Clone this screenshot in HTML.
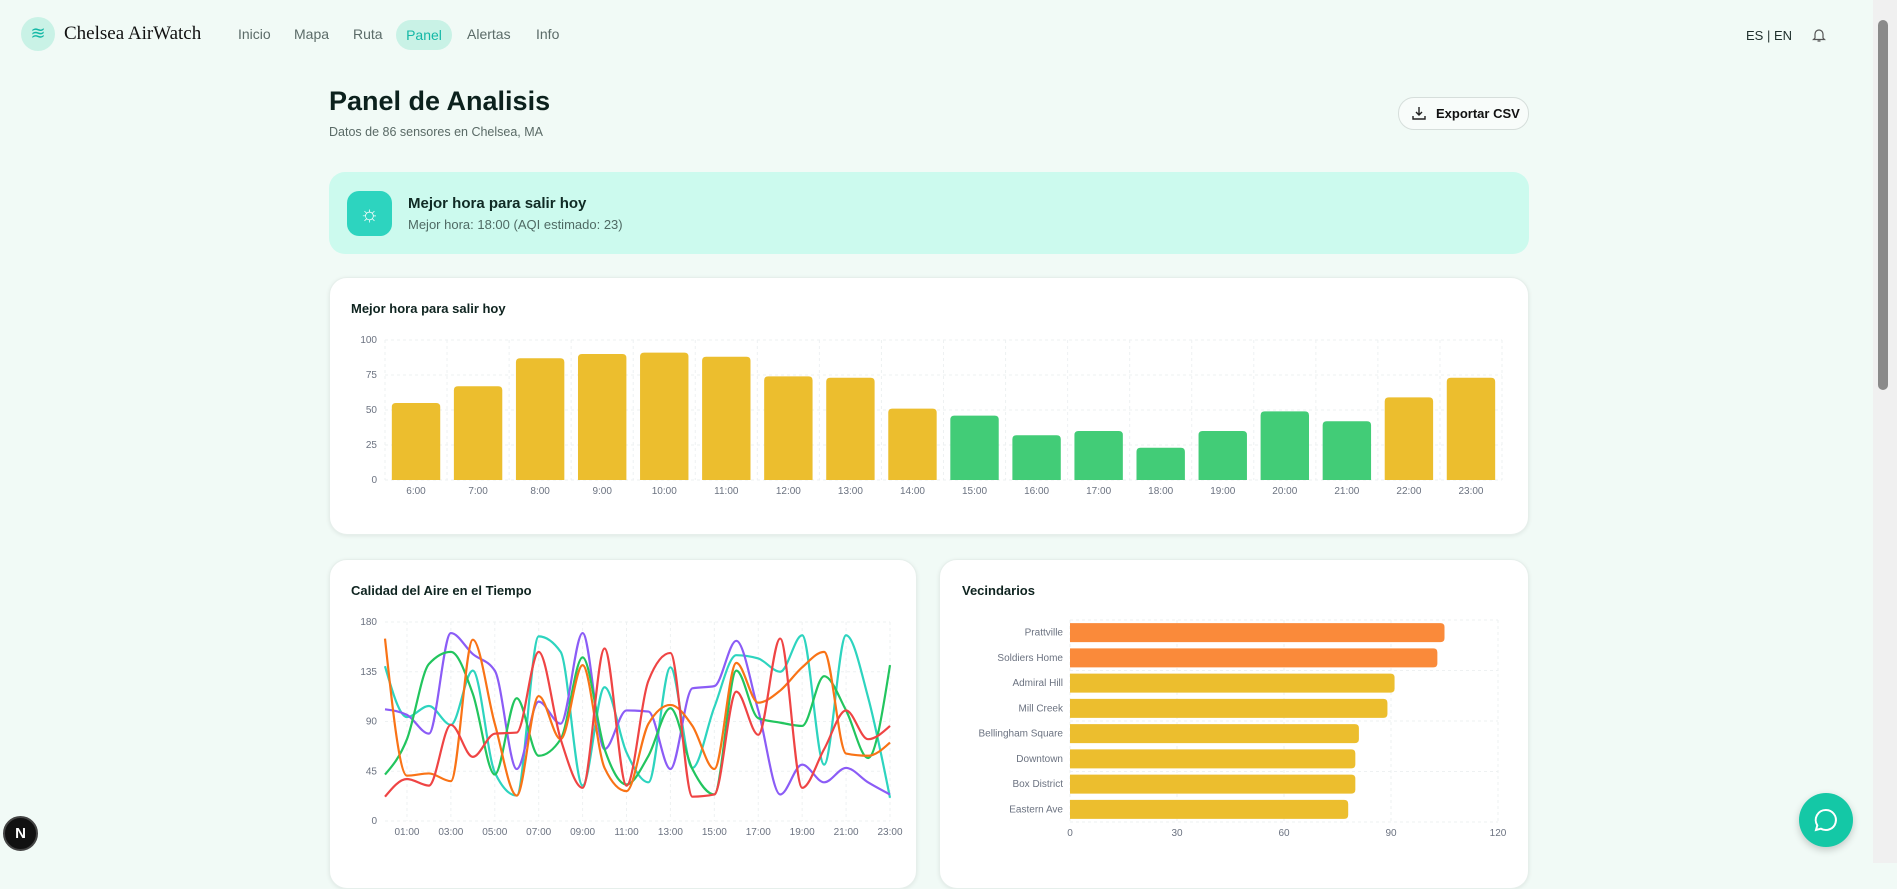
<!DOCTYPE html>
<html><head><meta charset="utf-8">
<style>
*{box-sizing:border-box;margin:0;padding:0}
body{width:1897px;height:863px;overflow:hidden;background:#F1FAF6;font-family:"Liberation Sans",sans-serif;position:relative;color:#0f2a24}
.abs{position:absolute}
.card{position:absolute;background:#fff;border-radius:18px;box-shadow:0 1px 4px rgba(0,0,0,.08);border:1px solid #e6efeb}
.nav a{position:absolute;top:26px;font-size:14px;color:#5b6b68;text-decoration:none}
.ctitle{position:absolute;font-size:13px;font-weight:bold;color:#0f2420}
svg text{font-family:"Liberation Sans",sans-serif}
</style></head><body>
<div class="abs" style="left:21px;top:17px;width:34px;height:34px;border-radius:50%;background:#c9f2e6;color:#14b8a6;font-size:18px;text-align:center;line-height:33px">≋</div>
<div class="abs" style="left:64px;top:23px;font-family:'Liberation Serif',serif;font-size:19px;color:#111">Chelsea AirWatch</div>
<div class="nav">
<a style="left:238px">Inicio</a>
<a style="left:294px">Mapa</a>
<a style="left:353px">Ruta</a>
<div class="abs" style="left:396px;top:20px;width:56px;height:30px;border-radius:15px;background:#c9f2e6;color:#14b8a6;font-size:14px;text-align:center;line-height:30px">Panel</div>
<a style="left:467px">Alertas</a>
<a style="left:536px">Info</a>
</div>
<div class="abs" style="left:1746px;top:28px;font-size:13px;color:#1f2f2c">ES | EN</div>
<svg class="abs" style="left:1811px;top:27px" width="16" height="16" viewBox="0 0 16 16"><path d="M4 11V7a4 4 0 0 1 8 0v4l1.5 1.5h-11z M6.5 14h3" fill="none" stroke="#555" stroke-width="1.2"/></svg>
<div class="abs" style="left:1873px;top:0;width:24px;height:863px;background:#f0f0f0"></div>
<div class="abs" style="left:1878px;top:20px;width:10px;height:370px;border-radius:5px;background:#8a8a8a"></div>

<div class="abs" style="left:329px;top:86px;font-size:27px;font-weight:bold;color:#0c211d">Panel de Analisis</div>
<div class="abs" style="left:329px;top:125px;font-size:12.5px;color:#5a6a66">Datos de 86 sensores en Chelsea, MA</div>
<div class="abs" style="left:1398px;top:97px;width:131px;height:33px;border:1px solid #d6dedb;border-radius:16px;background:#f8fcfa;font-size:13px;font-weight:bold;line-height:31px;padding-left:37px;color:#111">Exportar CSV<svg class="abs" style="left:13px;top:8px" width="14" height="14" viewBox="0 0 14 14"><path d="M7 1v8M4 6l3 3 3-3M1 10v3h12v-3" fill="none" stroke="#222" stroke-width="1.4"/></svg></div>

<div class="abs" style="left:329px;top:172px;width:1200px;height:82px;border-radius:16px;background:#CCFAEE"></div>
<div class="abs" style="left:347px;top:191px;width:45px;height:45px;border-radius:12px;background:#2DD4BF;color:#fff;font-size:22px;text-align:center;line-height:45px">☼</div>
<div class="abs" style="left:408px;top:195px;font-size:15px;font-weight:bold;color:#0f2a24">Mejor hora para salir hoy</div>
<div class="abs" style="left:408px;top:217px;font-size:13px;color:#4f6a64">Mejor hora: 18:00 (AQI estimado: 23)</div>

<div class="card" style="left:329px;top:277px;width:1200px;height:258px"></div>
<div class="ctitle" style="left:351px;top:301px">Mejor hora para salir hoy</div>
<div class="card" style="left:329px;top:559px;width:588px;height:330px"></div>
<div class="ctitle" style="left:351px;top:583px">Calidad del Aire en el Tiempo</div>
<div class="card" style="left:939px;top:559px;width:590px;height:330px"></div>
<div class="ctitle" style="left:962px;top:583px">Vecindarios</div>

<svg id="chart" class="abs" style="left:0;top:0" width="1897" height="863"></svg>

<div class="abs" style="left:3px;top:816px;width:35px;height:35px;border-radius:50%;background:#111;border:2px solid #444;color:#fff;font-size:15px;font-weight:bold;text-align:center;line-height:31px">N</div>
<div class="abs" style="left:1799px;top:793px;width:54px;height:54px;border-radius:50%;background:#14C8A6;box-shadow:0 3px 8px rgba(0,0,0,.2)"><svg width="54" height="54" viewBox="0 0 54 54"><path d="M27 17a10 10 0 1 1-5 18.7l-5 1.3 1.3-4.6A10 10 0 0 1 27 17z" fill="none" stroke="#fff" stroke-width="2"/></svg></div>

<script>
const hours=["6:00","7:00","8:00","9:00","10:00","11:00","12:00","13:00","14:00","15:00","16:00","17:00","18:00","19:00","20:00","21:00","22:00","23:00"];
const hourAqi=[55,67,87,90,91,88,74,73,51,46,32,35,23,35,49,42,59,73];
const hourTicks=[0,25,50,75,100];
const tsLabels=["01:00","03:00","05:00","07:00","09:00","11:00","13:00","15:00","17:00","19:00","21:00","23:00"];
const tsTicks=[0,45,90,135,180];
const tealSeries=[140,94,104,87,136,44,23,167,153,32,121,62,35,139,48,103,150,147,135,168,51,168,112,21];
const purpleSeries=[101,96,79,170,151,136,47,108,88,170,65,100,99,47,120,122,163,100,24,51,35,48,35,24];
const greenSeries=[42,74,142,153,115,42,111,59,74,148,65,33,59,102,47,24,136,93,89,86,131,100,57,141];
const orangeSeries=[165,41,43,36,164,88,23,113,74,141,48,27,88,105,86,47,143,107,118,139,153,61,59,71];
const redSeries=[22,38,32,87,58,79,80,153,74,30,156,32,127,152,22,24,117,78,165,30,65,100,74,86];
const hoods=["Prattville","Soldiers Home","Admiral Hill","Mill Creek","Bellingham Square","Downtown","Box District","Eastern Ave"];
const hoodAqi=[105,103,91,89,81,80,80,78];
const hoodTicks=[0,30,60,90,120];

const svg=document.getElementById('chart');
const NS='http://www.w3.org/2000/svg';
function mk(tag,at){const e=document.createElementNS(NS,tag);for(const k in at)e.setAttribute(k,at[k]);svg.appendChild(e);return e;}
function txt(x,y,s,anchor){const t=mk('text',{x:x,y:y,'font-size':10,fill:'#6b7280','text-anchor':anchor});t.textContent=s;return t;}
const GRID='#eef1f2';

// Bar chart
const bx0=385,bx1=1502,by0=480,by1=340;
const bw=(bx1-bx0)/hours.length;
const byS=v=>by0-(v/100)*(by0-by1);
hourTicks.forEach(t=>{const g=mk('line',{x1:bx0,x2:bx1,y1:byS(t),y2:byS(t),stroke:GRID,'stroke-dasharray':'3 3'});


const l=txt(377,byS(t)+3,t,'end');

});
hours.forEach((h,i)=>{const gx=bx0+bw*i;mk('line',{x1:gx,x2:gx,y1:by1,y2:by0,stroke:GRID,'stroke-dasharray':'3 3'});
const v=hourAqi[i];const w=bw*0.78;const x=gx+(bw-w)/2;const y=byS(v);
const r=mk('path',{d:`M${x},${by0}V${y+4}Q${x},${y} ${x+4},${y}H${x+w-4}Q${x+w},${y} ${x+w},${y+4}V${by0}Z`,fill:v<50?'#42CC77':'#ECBE2E'});


const l=txt(gx+bw/2,494,h,'middle');

});
mk('line',{x1:bx1,x2:bx1,y1:by1,y2:by0,stroke:GRID,'stroke-dasharray':'3 3'});

// Line chart
const lx0=385,lx1=890,ly0=821,ly1=622;
const lxS=i=>lx0+i*(lx1-lx0)/23;
const lyS=v=>ly0-(v/180)*(ly0-ly1);
tsTicks.forEach(t=>{mk('line',{x1:lx0,x2:lx1,y1:lyS(t),y2:lyS(t),stroke:GRID,'stroke-dasharray':'3 3'});
const l=txt(377,lyS(t)+3,t,'end');

});
tsLabels.forEach((s,k)=>{const i=1+2*k;mk('line',{x1:lxS(i),x2:lxS(i),y1:ly1,y2:ly0,stroke:GRID,'stroke-dasharray':'3 3'});
const l=txt(lxS(i),835,s,'middle');

});
function monotone(pts){const n=pts.length;const d=[],m=[];
for(let i=0;i<n-1;i++)d.push((pts[i+1][1]-pts[i][1])/(pts[i+1][0]-pts[i][0]));
for(let i=0;i<n;i++){if(i==0)m.push(d[0]);else if(i==n-1)m.push(d[n-2]);else{if(d[i-1]*d[i]<=0)m.push(0);else{const h0=pts[i][0]-pts[i-1][0],h1=pts[i+1][0]-pts[i][0];const p=(d[i-1]*h1+d[i]*h0)/(h0+h1);m.push((Math.sign(d[i-1])+Math.sign(d[i]))*Math.min(Math.abs(d[i-1]),Math.abs(d[i]),0.5*Math.abs(p)));}}}
m[0]=(3*d[0]-m[1])/2;m[n-1]=(3*d[n-2]-m[n-2])/2;
let s=`M${pts[0][0]},${pts[0][1]}`;
for(let i=0;i<n-1;i++){const h=(pts[i+1][0]-pts[i][0])/3;s+=`C${pts[i][0]+h},${pts[i][1]+h*m[i]} ${pts[i+1][0]-h},${pts[i+1][1]-h*m[i+1]} ${pts[i+1][0]},${pts[i+1][1]}`;}
return s;}
[[tealSeries,'#2DD4BF','teal'],[purpleSeries,'#8B5CF6','purple'],[greenSeries,'#22C55E','green'],[orangeSeries,'#F97316','orange'],[redSeries,'#EF4444','red']].forEach(([arr,c,n])=>{
const p=mk('path',{d:monotone(arr.map((v,i)=>[lxS(i),lyS(v)])),fill:'none',stroke:c,'stroke-width':2.2});

});

// Horizontal bar chart
const hx0=1070,hx1=1498,hy0=620,hy1=822;
const hxS=v=>hx0+(v/120)*(hx1-hx0);
const band=(hy1-hy0)/hoods.length;
hoodTicks.forEach(t=>{mk('line',{x1:hxS(t),x2:hxS(t),y1:hy0,y2:hy1,stroke:GRID,'stroke-dasharray':'3 3'});
const l=txt(hxS(t),836,t,'middle');

});
for(let k=0;k<=hoods.length;k+=2)mk('line',{x1:hx0,x2:hx1,y1:hy0+band*k,y2:hy0+band*k,stroke:GRID,'stroke-dasharray':'3 3'});
hoods.forEach((h,i)=>{const v=hoodAqi[i];const y=hy0+band*i+(band-19)/2;const x2=hxS(v);
const r=mk('path',{d:`M${hx0},${y}H${x2-4}Q${x2},${y} ${x2},${y+4}V${y+15}Q${x2},${y+19} ${x2-4},${y+19}H${hx0}Z`,fill:v>100?'#FA8A3A':'#ECBE2E'});


const l=txt(1063,hy0+band*i+band/2+3,h,'end');

});
</script>
</body></html>
